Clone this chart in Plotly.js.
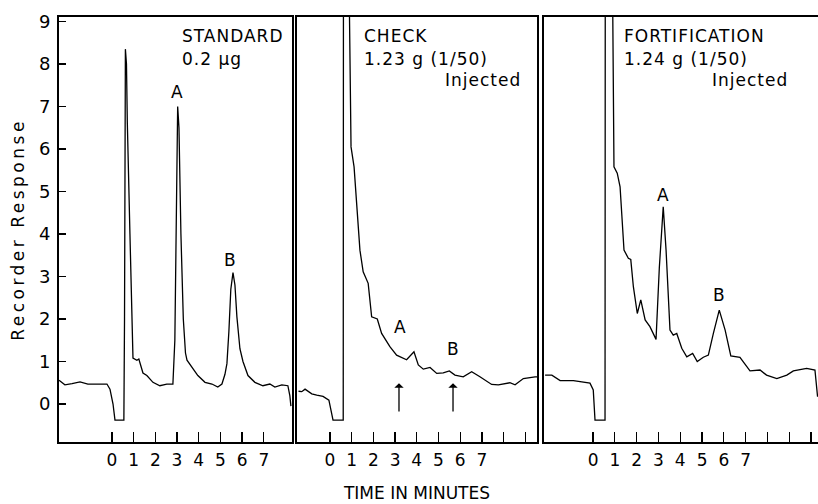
<!DOCTYPE html>
<html>
<head>
<meta charset="utf-8">
<script src="https://cdn.plot.ly/plotly-3.0.1.min.js"></script>
<style>
html,body{margin:0;padding:0;background:#fff;}
.xtitle{letter-spacing:2.5px;}
.ytitle{letter-spacing:3.5px;}
.annotation-text{letter-spacing:1px;}
</style>
</head>
<body>
<div id="chart" style="width:818px;height:504px;"></div>
<script>
// ---- data ----
const stdTime = [-2.44,-2.17,-1.84,-1.47,-1.11,-0.55,-0.23,-0.09,0.05,0.14,0.55,0.58,0.62,0.67,0.71,0.83,0.97,1.15,1.24,1.43,1.61,1.89,2.21,2.53,2.81,2.9,2.97,3.03,3.09,3.18,3.29,3.39,3.46,3.69,3.96,4.29,4.61,4.88,5.07,5.21,5.3,5.39,5.48,5.58,5.67,5.76,5.9,6.04,6.27,6.59,6.96,7.28,7.51,7.83,8.11,8.2,8.25];
const stdResp = [0.56,0.45,0.48,0.52,0.47,0.48,0.47,0.35,0.0,-0.38,-0.38,2.0,8.35,8.0,6.6,4.0,1.08,1.03,1.06,0.73,0.67,0.51,0.43,0.47,0.47,1.5,4.5,7.0,6.5,4.0,2.0,1.2,1.03,0.85,0.67,0.51,0.47,0.40,0.47,0.7,0.95,1.7,2.7,3.09,2.8,2.05,1.3,1.0,0.67,0.51,0.43,0.47,0.40,0.45,0.43,0.2,-0.05];

const chkTime = [-1.45,-1.3,-1.15,-0.84,-0.61,-0.32,-0.05,0.14,0.61,0.62,0.89,0.97,1.11,1.38,1.53,1.76,1.92,2.18,2.38,2.76,3.07,3.53,3.87,4.07,4.3,4.61,4.92,5.22,5.5,5.76,6.14,6.53,6.91,7.45,7.76,8.29,8.53,8.91,9.45,9.54];
const chkResp = [0.3,0.29,0.35,0.24,0.21,0.18,0.09,-0.38,-0.38,9.5,9.5,6.05,5.58,3.62,3.11,2.84,2.05,2.0,1.66,1.35,1.15,1.04,1.23,0.92,0.82,0.86,0.72,0.73,0.78,0.68,0.64,0.76,0.64,0.46,0.45,0.5,0.45,0.6,0.64,0.64];

const fortTime = [-2.2,-1.89,-1.51,-0.9,-0.14,0.01,0.09,0.55,0.56,0.9,0.96,1.11,1.24,1.42,1.62,1.73,1.85,2.03,2.19,2.39,2.61,2.89,3.04,3.22,3.35,3.53,3.68,3.84,4.07,4.3,4.57,4.78,5.06,5.29,5.52,5.79,6.06,6.32,6.74,7.2,7.66,7.96,8.43,8.89,9.19,9.8,10.18,10.3];
const fortResp = [0.68,0.68,0.55,0.55,0.49,0.33,-0.38,-0.38,9.5,9.5,5.58,5.43,5.11,3.62,3.43,3.4,2.76,2.13,2.45,1.98,1.82,1.52,3.2,4.64,3.62,1.74,1.62,1.66,1.31,1.11,1.19,1.0,1.1,1.15,1.66,2.21,1.74,1.13,1.1,0.78,0.8,0.68,0.6,0.68,0.78,0.84,0.8,0.17];

const yTickVals = [0,1,2,3,4,5,6,7,8,9];
const yTickText = ['0','1','2','3','4','5','6','7','8','9'];
const xTickVals1 = [0,1,2,3,4,5,6,7];
const xTickVals2 = [0,1,2,3,4,5,6,7,8,9];
const xTickVals3 = [0,1,2,3,4,5,6,7,8,9,10];
const xTickLabels = ['0','1','2','3','4','5','6','7'];

// panel labels
const panelTitles = ['STANDARD','CHECK','FORTIFICATION'];
const panelSubs = ['0.2 µg','1.23 g (1/50)','1.24 g (1/50)'];
const injectedText = 'Injected';
// peak labels [panel, time, response, text]
const peakLabels = [
  ['', 3.04, 7.34, 'A'], ['', 5.48, 3.39, 'B'],
  ['2', 3.23, 1.81, 'A'], ['2', 5.67, 1.29, 'B'],
  ['3', 3.21, 4.92, 'A'], ['3', 5.78, 2.56, 'B']
];
// arrows in CHECK panel [time, fromResp, toResp]
const checkArrows = [[3.18, -0.21, 0.49], [5.67, -0.21, 0.49]];

const FONT = 'DejaVu Sans, Liberation Sans, sans-serif';
const lineStyle = {color:'#000', width:1.3};

function mkTicktext(vals){ return vals.map(v => v < xTickLabels.length ? xTickLabels[v] : ''); }

const traces = [
  {x: stdTime, y: stdResp, xaxis:'x', yaxis:'y', mode:'lines', line:lineStyle, hoverinfo:'skip'},
  {x: chkTime, y: chkResp, xaxis:'x2', yaxis:'y2', mode:'lines', line:lineStyle, hoverinfo:'skip'},
  {x: fortTime, y: fortResp, xaxis:'x3', yaxis:'y3', mode:'lines', line:lineStyle, hoverinfo:'skip'}
];

const W = 818, H = 504;
const yDom = [(H-442)/H, (H-17)/H];
const baseX = {showline:true, mirror:true, linewidth:2, linecolor:'#000', ticks:'inside', ticklen:10, tickwidth:1.3, tickcolor:'#000',
  showgrid:false, zeroline:false, tickfont:{family:FONT, size:17, color:'#000'}, ticklabelstandoff:2, fixedrange:true};
const baseY = {showline:true, mirror:true, linewidth:2, linecolor:'#000', showgrid:false, zeroline:false, range:[-0.894, 9.106],
  domain:yDom, fixedrange:true};

const annotations = [];
const subX = [[180/W, null],[362/W, 523/W],[622/W, 790/W]];
const AF = {family:FONT,size:17,color:'#000'};
for (let i=0;i<3;i++){
  annotations.push({xref:'paper', yref:'paper', x:subX[i][0], y:1-36/H, xanchor:'left', yanchor:'middle', text:panelTitles[i], showarrow:false, font:AF});
  annotations.push({xref:'paper', yref:'paper', x:subX[i][0], y:1-59/H, xanchor:'left', yanchor:'middle', text:panelSubs[i], showarrow:false, font:AF});
  if (subX[i][1] !== null)
    annotations.push({xref:'paper', yref:'paper', x:subX[i][1], y:1-80/H, xanchor:'right', yanchor:'middle', text:injectedText, showarrow:false, font:AF});
}
peakLabels.forEach(p => annotations.push({xref:'x'+p[0], yref:'y'+p[0], x:p[1], y:p[2], text:p[3], showarrow:false, font:AF}));
checkArrows.forEach(a => annotations.push({xref:'x2', yref:'y2', axref:'x2', ayref:'y2', x:a[0], y:a[2], ax:a[0], ay:a[1], text:'', showarrow:true, arrowhead:1, arrowsize:1.2, arrowwidth:1.3, arrowcolor:'#000'}));

const layout = {
  width:W, height:H, margin:{l:0,r:0,t:0,b:0}, paper_bgcolor:'#fff', plot_bgcolor:'#fff', showlegend:false,
  font:{family:FONT, color:'#000'},
  xaxis: Object.assign({}, baseX, {domain:[59/W, 292/W], range:[-2.44, 8.3], anchor:'y', tickvals:xTickVals1, ticktext:mkTicktext(xTickVals1)}),
  xaxis2: Object.assign({}, baseX, {domain:[297/W, 537/W], range:[-1.52, 9.54], anchor:'y2', tickvals:xTickVals2, ticktext:mkTicktext(xTickVals2),
    title:{text:'TIME IN MINUTES', font:{family:FONT, size:17, color:'#000'}, standoff:18}}),
  xaxis3: Object.assign({}, baseX, {domain:[544/W, 1], range:[-2.25, 10.32], anchor:'y3', tickvals:xTickVals3, ticktext:mkTicktext(xTickVals3)}),
  yaxis: Object.assign({}, baseY, {anchor:'x', ticks:'inside', ticklen:7, tickwidth:1.3, tickcolor:'#000', tickvals:yTickVals, ticktext:yTickText,
    tickfont:{family:FONT, size:18, color:'#000'}, ticklabelstandoff:3,
    title:{text:'Recorder Response', font:{family:FONT, size:17, color:'#000'}, standoff:10}}),
  yaxis2: Object.assign({}, baseY, {anchor:'x2', showticklabels:false, ticks:''}),
  yaxis3: Object.assign({}, baseY, {anchor:'x3', showticklabels:false, ticks:''}),
  annotations: annotations
};

Plotly.newPlot('chart', traces, layout, {staticPlot:true, displayModeBar:false});
</script>
</body>
</html>
